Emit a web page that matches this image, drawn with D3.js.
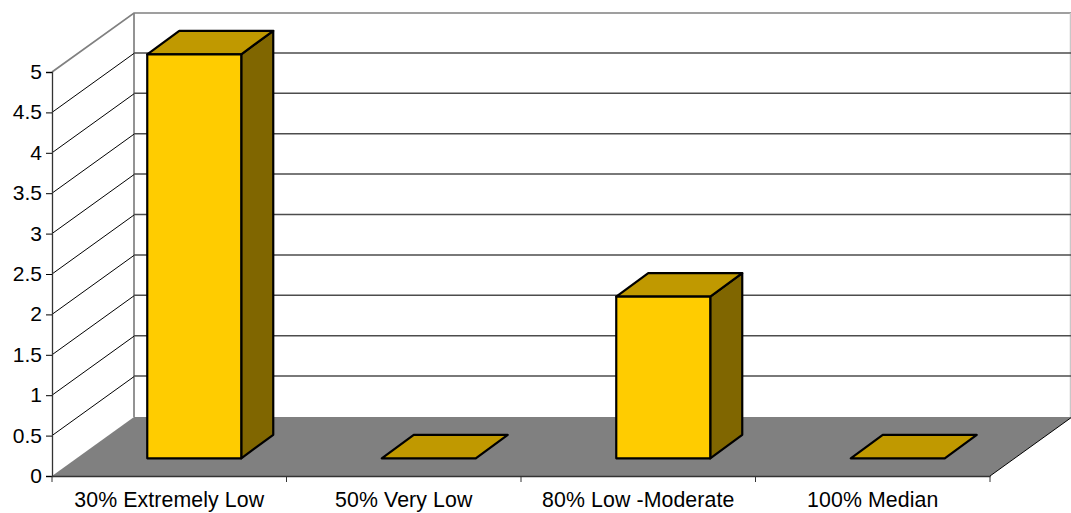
<!DOCTYPE html>
<html>
<head>
<meta charset="utf-8">
<script src="https://cdn.jsdelivr.net/npm/d3@7/dist/d3.min.js"></script>
<style>
  html, body { margin: 0; padding: 0; background: #fff; }
  text { font-family: "Liberation Sans", Arial, sans-serif; fill: #000; }
</style>
</head>
<body>
<svg id="chart" width="1071" height="513" style="display:block"></svg>
<script>
// Housing units by income bracket
const categories = ["30% Extremely Low", "50% Very Low", "80% Low -Moderate", "100% Median"];
const units = [5, 0, 2, 0];
const valueTicks = [0, 0.5, 1, 1.5, 2, 2.5, 3, 3.5, 4, 4.5, 5];

const svg = d3.select("#chart");

// Front plane of the box
const x = d3.scaleBand().domain(categories).range([52, 990]);
const y = d3.scaleLinear().domain([0, 5]).range([476, 72]);

// Oblique projection offsets
const depth = { dx: 82, dy: -59 };       // front plane to back wall
const barInset = { dx: 25, dy: -17.7 };  // front plane to bar's front face
const barDepth = { dx: 32, dy: -23.5 };  // bar's front face to its back face
const barWidth = 94;

const poly = pts => pts.map(p => p.join(",")).join(" ");
const x0 = x.range()[0], x1 = x.range()[1];
const yBase = y(0), yTop = y(5);
const backRight = x1 + depth.dx - 1;

// Back wall outline
svg.append("path")
  .attr("d", `M${x0},${yTop}L${x0 + depth.dx},${yTop + depth.dy}L${backRight},${yTop + depth.dy}`)
  .attr("fill", "none").attr("stroke", "#808080").attr("stroke-width", 1.7);
svg.append("line")
  .attr("x1", x0 + depth.dx).attr("x2", x0 + depth.dx)
  .attr("y1", yTop + depth.dy).attr("y2", yBase + depth.dy)
  .attr("stroke", "#808080").attr("stroke-width", 1.7);
svg.append("line")
  .attr("x1", backRight - 0.5).attr("x2", backRight - 0.5)
  .attr("y1", yTop + depth.dy).attr("y2", yBase + depth.dy)
  .attr("stroke", "#c8c8c8").attr("stroke-width", 1.5);

// Gridlines: diagonal on the side wall, then across the back wall
const inner = valueTicks.filter(v => v > 0 && v < 5);
const grid = svg.append("g").selectAll("g").data(inner).join("g").attr("fill", "none");
grid.append("line")
  .attr("x1", x0).attr("y1", d => y(d))
  .attr("x2", x0 + depth.dx).attr("y2", d => y(d) + depth.dy)
  .attr("stroke", "#000").attr("stroke-width", 1);
grid.append("line")
  .attr("x1", x0 + depth.dx).attr("y1", d => y(d) + depth.dy - 0.5)
  .attr("x2", backRight).attr("y2", d => y(d) + depth.dy - 0.5)
  .attr("stroke", "#4d4d4d").attr("stroke-width", 1.5);

// Floor
svg.append("polygon")
  .attr("points", poly([[x0, yBase], [x1, yBase], [x1 + depth.dx, yBase + depth.dy], [x0 + depth.dx, yBase + depth.dy]]))
  .attr("fill", "#808080");
svg.append("line")
  .attr("x1", x1).attr("y1", yBase)
  .attr("x2", x1 + depth.dx).attr("y2", yBase + depth.dy)
  .attr("stroke", "#000").attr("stroke-width", 1);

// Bars: front, top and side faces
const barX = d => x(d) + (x.bandwidth() - barWidth) / 2 + barInset.dx;
const bars = svg.append("g").selectAll("g")
  .data(categories.map((c, i) => ({ c, v: units[i] })))
  .join("g")
  .attr("stroke", "#000").attr("stroke-width", 2.2).attr("stroke-linejoin", "round");

bars.filter(d => d.v > 0).append("polygon")
  .attr("fill", "#806600")
  .attr("points", d => {
    const l = barX(d.c) + barWidth, b = y(0) + barInset.dy, t = y(d.v) + barInset.dy;
    return poly([[l, t], [l + barDepth.dx, t + barDepth.dy], [l + barDepth.dx, b + barDepth.dy], [l, b]]);
  });
bars.append("polygon")
  .attr("fill", "#C09900")
  .attr("points", d => {
    const l = barX(d.c), t = y(d.v) + barInset.dy;
    return poly([[l, t], [l + barWidth, t], [l + barWidth + barDepth.dx, t + barDepth.dy], [l + barDepth.dx, t + barDepth.dy]]);
  });
bars.filter(d => d.v > 0).append("rect")
  .attr("fill", "#FFCC00")
  .attr("x", d => barX(d.c))
  .attr("y", d => y(d.v) + barInset.dy)
  .attr("width", barWidth)
  .attr("height", d => y(0) - y(d.v));

// Axes
const axisY = svg.append("g").attr("transform", `translate(${x0},0)`)
  .call(d3.axisLeft(y).tickValues(valueTicks).tickSize(6).tickPadding(4).tickFormat(d3.format("~g")));
axisY.selectAll("text").attr("font-size", 21).attr("dy", "0").attr("y", 1).attr("x", -10).attr("dominant-baseline", "middle");

const axisX = svg.append("g").attr("transform", `translate(0,${yBase})`)
  .call(d3.axisBottom(x).tickSize(0).tickPadding(16));
axisX.selectAll("text").attr("font-size", 21.3).attr("letter-spacing", 0.1);
axisX.selectAll(".boundary").data(d3.range(categories.length + 1)).join("line")
  .attr("class", "boundary")
  .attr("x1", i => x0 + i * x.step()).attr("x2", i => x0 + i * x.step())
  .attr("y1", 0).attr("y2", 6).attr("stroke", "#333");
svg.selectAll(".domain").attr("stroke", "#333").attr("stroke-width", 1.3);
</script>
</body>
</html>
